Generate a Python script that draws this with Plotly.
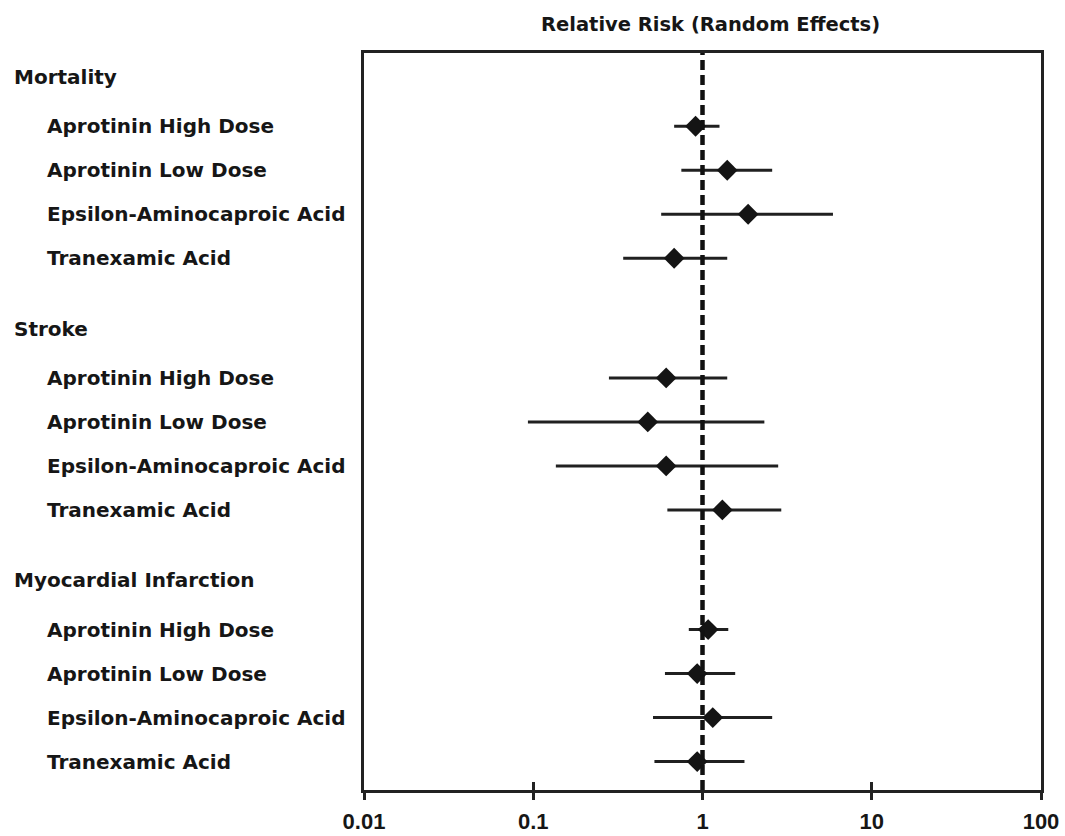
import plotly.graph_objects as go

# ---- data ----
groups = ["Mortality", "Stroke", "Myocardial Infarction"]
treatments = ["Aprotinin High Dose", "Aprotinin Low Dose",
              "Epsilon-Aminocaproic Acid", "Tranexamic Acid"]

rr_mortality = [0.91, 1.40, 1.86, 0.68]
lo_mortality = [0.68, 0.75, 0.57, 0.34]
hi_mortality = [1.26, 2.58, 5.90, 1.40]

rr_stroke = [0.61, 0.475, 0.61, 1.31]
lo_stroke = [0.28, 0.093, 0.136, 0.62]
hi_stroke = [1.40, 2.32, 2.80, 2.92]

rr_mi = [1.08, 0.93, 1.15, 0.93]
lo_mi = [0.83, 0.60, 0.51, 0.52]
hi_mi = [1.42, 1.56, 2.58, 1.77]

tick_vals = [0.01, 0.1, 1, 10, 100]
tick_text = ["0.01", "0.1", "1", "10", "100"]
title_text = "Relative Risk (Random Effects)"

# ---- layout of rows (row units) ----
FIRST_OFFSET = 1.12
ROW_STEP = 1.0
GROUP_GAP = 1.6
group_len = FIRST_OFFSET + ROW_STEP * (len(treatments) - 1) + GROUP_GAP

est_all = [rr_mortality, rr_stroke, rr_mi]
lo_all = [lo_mortality, lo_stroke, lo_mi]
hi_all = [hi_mortality, hi_stroke, hi_mi]

xs, ys, eplus, eminus = [], [], [], []
annotations = []
TXT = "#161616"
LBL_FONT = dict(family="DejaVu Sans", size=20, color=TXT, weight="bold")
HEADER_X = -0.520
ITEM_X = -0.4712

for g, gname in enumerate(groups):
    gy = g * group_len
    annotations.append(dict(text=gname, x=HEADER_X, xref="paper", y=gy, yref="y",
                            xanchor="left", yanchor="middle", showarrow=False,
                            font=LBL_FONT))
    for k, tname in enumerate(treatments):
        yy = gy + FIRST_OFFSET + k * ROW_STEP
        annotations.append(dict(text=tname, x=ITEM_X, xref="paper", y=yy, yref="y",
                                xanchor="left", yanchor="middle", showarrow=False,
                                font=LBL_FONT))
        e = est_all[g][k]
        xs.append(e)
        ys.append(yy)
        eplus.append(hi_all[g][k] - e)
        eminus.append(e - lo_all[g][k])

annotations.append(dict(text=title_text, x=0.5125, xref="paper", y=1.039, yref="paper",
                        xanchor="center", yanchor="middle", showarrow=False,
                        font=dict(family="DejaVu Sans", size=19.5, color=TXT, weight="bold")))

fig = go.Figure()
fig.add_trace(go.Scatter(
    x=xs, y=ys, mode="markers",
    marker=dict(symbol="diamond", size=16, color="#141414"),
    error_x=dict(type="data", symmetric=False, array=eplus, arrayminus=eminus,
                 width=0, thickness=3, color="#202020"),
    showlegend=False, hoverinfo="x+y",
))

top_pad = 0.545
n_units = (790 - 53) / 44.0
fig.update_layout(
    width=1065, height=836,
    margin=dict(l=364, r=24, t=53, b=46, autoexpand=False),
    paper_bgcolor="white", plot_bgcolor="white",
    annotations=annotations,
    shapes=[dict(type="line", xref="x", yref="paper", x0=1, x1=1, y0=0, y1=1,
                 line=dict(color="#111111", width=4.5, dash="10px,5px"), layer="above")],
    xaxis=dict(type="log", range=[-2, 2], tickvals=tick_vals, ticktext=tick_text,
               automargin=False,
               showgrid=False, zeroline=False, showline=True, mirror=True,
               linecolor="#222222", linewidth=3,
               ticks="outside", ticklen=7, tickwidth=3, tickcolor="#222222",
               ticklabelstandoff=3, ticklabeloverflow="allow",
               tickfont=dict(family="Liberation Sans", size=22,
                             color=TXT, weight="bold")),
    xaxis2=dict(type="log", range=[-2, 2], overlaying="x", side="bottom",
                automargin=False,
                tickvals=tick_vals, showticklabels=False, showgrid=False,
                zeroline=False, showline=False,
                ticks="inside", ticklen=8, tickwidth=3, tickcolor="#222222"),
    yaxis=dict(range=[n_units - top_pad, -top_pad], showgrid=False, zeroline=False,
               automargin=False,
               showticklabels=False, showline=True, mirror=True,
               linecolor="#222222", linewidth=3, ticks=""),
)
# invisible trace to activate xaxis2
fig.add_trace(go.Scatter(x=[1], y=[0], xaxis="x2", mode="markers",
                         marker=dict(opacity=0), showlegend=False, hoverinfo="skip"))

# remove the default 8px page margin so the figure fills the window exactly
fig.write_html("out.html", config={"displayModeBar": False},
               post_script="document.body.style.margin='0';document.body.style.overflow='hidden';")
